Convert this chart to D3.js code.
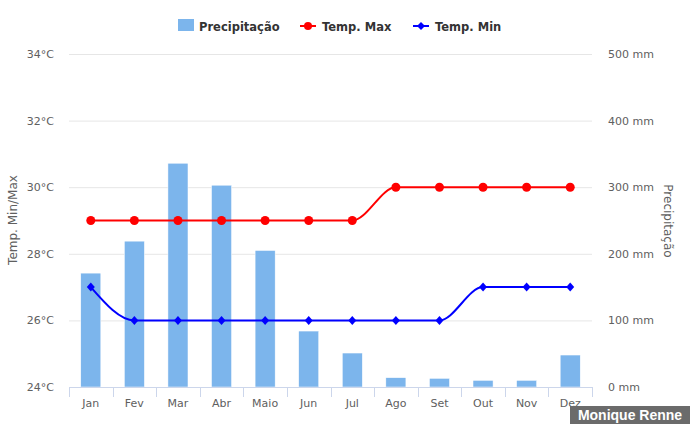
<!DOCTYPE html>
<html><head><meta charset="utf-8">
<script src="https://cdn.jsdelivr.net/npm/d3@7"></script>
<style>body{margin:0;background:#fff}svg{display:block}</style>
</head><body><svg id="c" width="690" height="429"></svg>
<script>
const months = ["Jan","Fev","Mar","Abr","Maio","Jun","Jul","Ago","Set","Out","Nov","Dez"];
const precip = [171,219,336,303,205,84,51,14,13,10,10,48];
const tempMax = [29,29,29,29,29,29,29,30,30,30,30,30];
const tempMin = [27,26,26,26,26,26,26,26,26,27,27,27];
const tempTicks = [24,26,28,30,32,34];
const precipTicks = [0,100,200,300,400,500];

const font = "'DejaVu Sans', Verdana, sans-serif";
const svg = d3.select("#c");
const L = 69, R = 592, T = 54, B = 387;
const x = d3.scaleBand().domain(months).range([L,R]).paddingInner(0.54).paddingOuter(0.27);
const xb = d3.scaleBand().domain(months).range([L,R]);
const yT = d3.scaleLinear().domain([24,34]).range([B,T]);
const yP = d3.scaleLinear().domain([0,500]).range([B,T]);

// grid
svg.append("g").selectAll("line").data(tempTicks.slice(1)).join("line")
  .attr("x1",L).attr("x2",R).attr("y1",d=>yT(d)+0.5).attr("y2",d=>yT(d)+0.5)
  .attr("stroke","#e6e6e6").attr("stroke-width",1);

// left axis labels
svg.append("g").selectAll("text").data(tempTicks).join("text")
  .attr("x",54).attr("y",d=>yT(d)+4).attr("text-anchor","end")
  .attr("font-family",font).attr("font-size",11).attr("fill","#606060")
  .text(d=>d+"°C");
// right axis labels
svg.append("g").selectAll("text").data(precipTicks).join("text")
  .attr("x",608).attr("y",d=>yP(d)+4).attr("text-anchor","start")
  .attr("font-family",font).attr("font-size",11).attr("fill","#606060")
  .text(d=>d+" mm");
// axis titles
svg.append("text").attr("transform","translate(17,220) rotate(-90)").attr("text-anchor","middle")
  .attr("font-family",font).attr("font-size",12).attr("fill","#606060").text("Temp. Min/Max");
svg.append("text").attr("transform","translate(664,221) rotate(90)").attr("text-anchor","middle")
  .attr("font-family",font).attr("font-size",12).attr("fill","#606060").text("Precipitação");

// bars
svg.append("g").selectAll("rect").data(precip).join("rect")
  .attr("x",(d,i)=>x(months[i])).attr("width",x.bandwidth())
  .attr("y",d=>yP(d)).attr("height",d=>B-yP(d))
  .attr("fill","#7cb5ec").attr("stroke","#fff").attr("stroke-width",0.5);

// x axis
const xa = svg.append("g");
xa.append("line").attr("x1",L).attr("x2",R).attr("y1",B+0.5).attr("y2",B+0.5).attr("stroke","#ccd6eb");
xa.selectAll("line.t").data(d3.range(13)).join("line").attr("class","t")
  .attr("x1",i=>Math.round(L+i*xb.step())+0.5).attr("x2",i=>Math.round(L+i*xb.step())+0.5)
  .attr("y1",B).attr("y2",B+10).attr("stroke","#ccd6eb");
xa.selectAll("text").data(months).join("text")
  .attr("x",d=>xb(d)+xb.bandwidth()/2).attr("y",407).attr("text-anchor","middle")
  .attr("font-family",font).attr("font-size",11).attr("fill","#606060").text(d=>d);

const cx = i => xb(months[i])+xb.bandwidth()/2;
const line = yS => d3.line().x((d,i)=>cx(i)).y(d=>yS(d)).curve(d3.curveMonotoneX);

// temp max
svg.append("path").datum(tempMax).attr("d",line(yT)).attr("fill","none").attr("stroke","#ff0000").attr("stroke-width",2);
svg.append("g").selectAll("circle").data(tempMax).join("circle")
  .attr("cx",(d,i)=>cx(i)).attr("cy",d=>yT(d)).attr("r",4.5).attr("fill","#ff0000");
// temp min
svg.append("path").datum(tempMin).attr("d",line(yT)).attr("fill","none").attr("stroke","#0000ff").attr("stroke-width",2);
svg.append("g").selectAll("path.m").data(tempMin).join("path").attr("class","m")
  .attr("d",(d,i)=>`M${cx(i)},${yT(d)-4.5}L${cx(i)+4},${yT(d)}L${cx(i)},${yT(d)+4.5}L${cx(i)-4},${yT(d)}Z`)
  .attr("fill","#0000ff");

// legend
const lg = svg.append("g").attr("font-family",font).attr("font-size",11.5).attr("font-weight","bold").attr("fill","#333333");
lg.append("rect").attr("x",178).attr("y",19).attr("width",16).attr("height",12).attr("fill","#7cb5ec");
lg.append("text").attr("x",199).attr("y",31).text("Precipitação");
lg.append("line").attr("x1",300).attr("x2",316).attr("y1",26).attr("y2",26).attr("stroke","#ff0000").attr("stroke-width",2);
lg.append("circle").attr("cx",308).attr("cy",26).attr("r",4).attr("fill","#ff0000");
lg.append("text").attr("x",322).attr("y",31).text("Temp. Max");
lg.append("line").attr("x1",413).attr("x2",429).attr("y1",26).attr("y2",26).attr("stroke","#0000ff").attr("stroke-width",2);
lg.append("path").attr("d","M421,22L425,26L421,30L417,26Z").attr("fill","#0000ff");
lg.append("text").attr("x",435).attr("y",31).text("Temp. Min");

// watermark
svg.append("rect").attr("x",570).attr("y",406).attr("width",120).attr("height",18).attr("fill","#6b6b6b");
svg.append("text").attr("x",630).attr("y",420).attr("text-anchor","middle").attr("font-family","'Liberation Sans', Arial, sans-serif")
  .attr("font-size",14).attr("font-weight","bold").attr("fill","#ffffff").text("Monique Renne");
</script></body></html>
